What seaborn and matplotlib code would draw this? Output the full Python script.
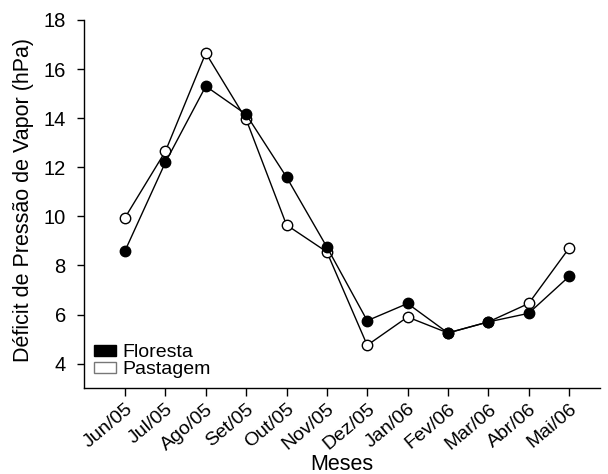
import matplotlib
matplotlib.use('Agg')
import matplotlib.pyplot as plt
import matplotlib.patches as mpatches
import seaborn as sns
import pandas as pd

meses = ['Jun/05', 'Jul/05', 'Ago/05', 'Set/05', 'Out/05', 'Nov/05',
         'Dez/05', 'Jan/06', 'Fev/06', 'Mar/06', 'Abr/06', 'Mai/06']
floresta = [8.6, 12.2, 15.3, 14.15, 11.6, 8.75, 5.75, 6.45, 5.25, 5.7, 6.05, 7.55]
pastagem = [9.95, 12.65, 16.65, 13.95, 9.65, 8.55, 4.75, 5.9, 5.25, 5.7, 6.45, 8.7]

sns.set_style('ticks')
plt.rcParams['font.family'] = ['Liberation Sans', 'DejaVu Sans']
plt.rcParams['text.color'] = 'black'
plt.rcParams['axes.labelcolor'] = 'black'
plt.rcParams['xtick.color'] = 'black'
plt.rcParams['ytick.color'] = 'black'

idx = list(range(len(meses)))
df = pd.DataFrame({'i': idx, 'Floresta': floresta, 'Pastagem': pastagem})

fig = plt.figure(figsize=(6.08, 4.74), dpi=100)
ax = fig.add_axes([0.138, 0.181, 0.849, 0.777])

# pastagem primeiro, floresta por cima
sns.lineplot(data=df, x='i', y='Pastagem', ax=ax, color='black', lw=1.0,
             marker='o', markersize=7.5, markerfacecolor='white',
             markeredgecolor='black', markeredgewidth=1.0)
sns.lineplot(data=df, x='i', y='Floresta', ax=ax, color='black', lw=1.0,
             marker='o', markersize=7.5, markerfacecolor='black',
             markeredgecolor='black', markeredgewidth=1.0)

ax.set_xlim(-1.02, 11.77)
ax.set_ylim(3.0, 18)
ax.set_yticks(range(4, 19, 2))
ax.set_xticks(idx)
ax.set_xticklabels(meses, rotation=40, ha='right', va='top',
                   rotation_mode='anchor', fontsize=14)
ax.tick_params(axis='y', labelsize=14.5, length=5, width=1, direction='out', pad=8)
ax.tick_params(axis='x', length=6, width=1, direction='out', pad=3)
ax.set_xlabel('Meses', fontsize=15.5)
ax.set_ylabel('Déficit de Pressão de Vapor (hPa)', fontsize=15.5)
ax.xaxis.set_label_coords(0.5, -0.178)
ax.yaxis.set_label_coords(-0.097, 0.51)
sns.despine(ax=ax)
for s in ['left', 'bottom']:
    ax.spines[s].set_linewidth(1.0)
    ax.spines[s].set_color('black')

handles = [mpatches.Patch(facecolor='black', edgecolor='black', label='Floresta'),
           mpatches.Patch(facecolor='white', edgecolor='#777777', label='Pastagem')]
ax.legend(handles=handles, loc='lower left', bbox_to_anchor=(0.0, 0.0),
          frameon=False, fontsize=14, handlelength=1.15, handleheight=0.5,
          handletextpad=0.35, labelspacing=0.0, borderaxespad=0.5,
          borderpad=0.0)

fig.savefig('out.png', dpi=100)
